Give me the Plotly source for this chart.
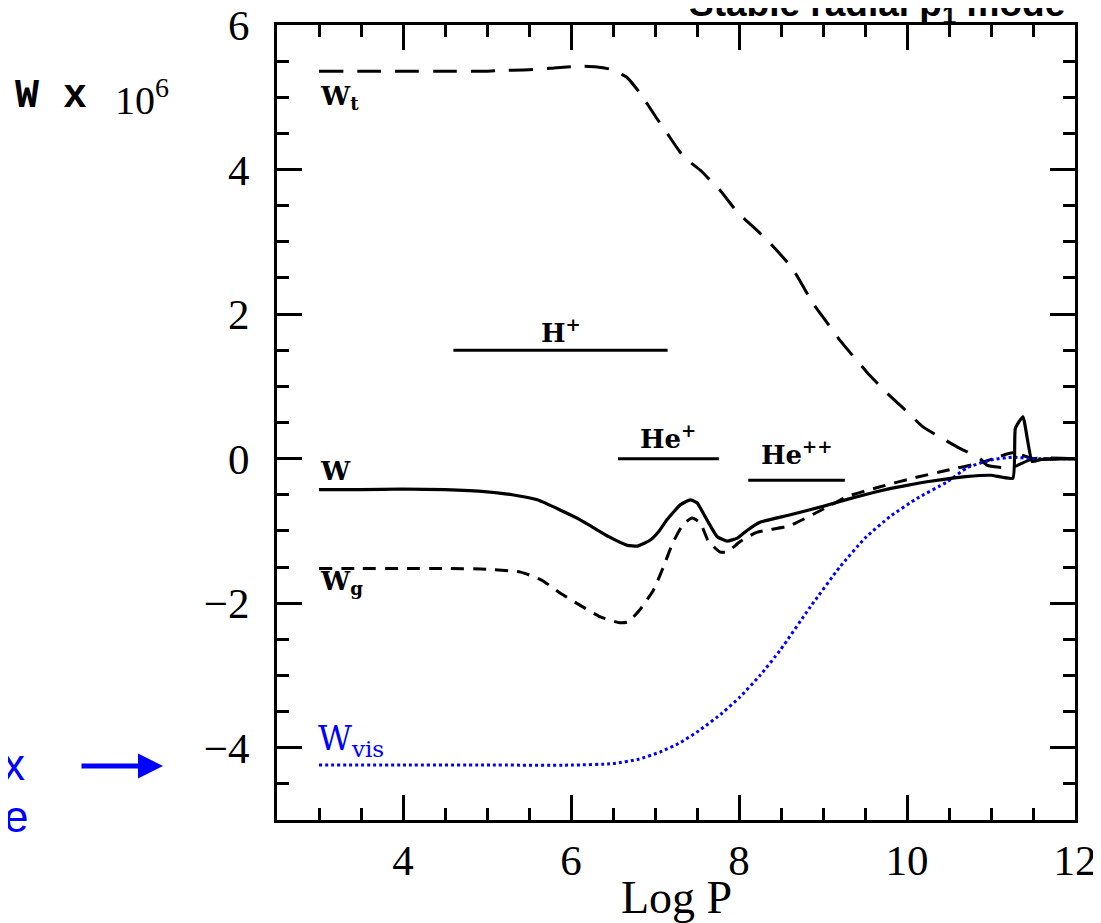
import plotly.graph_objects as go

# ---- data ----
logP_t = [3.0, 3.5, 4.0, 4.5, 5.0, 5.15, 5.5, 5.75, 5.95, 6.15, 6.31, 6.46, 6.57, 6.67, 6.82,
          7.02, 7.14, 7.30, 7.42, 7.55, 7.65, 7.77, 7.98, 8.10, 8.33, 8.63, 8.88, 9.05, 9.20,
          9.52, 9.76, 10.0, 10.19, 10.39, 10.6, 10.87, 10.95, 11.1, 11.26, 11.5, 12.0]
W_t = [5.36, 5.36, 5.36, 5.36, 5.36, 5.37, 5.38, 5.40, 5.42, 5.43, 5.42, 5.39, 5.34, 5.27, 5.06,
       4.71, 4.51, 4.24, 4.10, 3.98, 3.86, 3.72, 3.41, 3.28, 3.03, 2.64, 2.15, 1.88, 1.64,
       1.20, 0.91, 0.65, 0.44, 0.30, 0.16, 0.0, -0.09, -0.12, -0.12, 0.0, 0.0]

logP_w = [3.0, 3.5, 4.0, 4.5, 5.0, 5.3, 5.6, 5.87, 6.1, 6.26, 6.45, 6.67, 6.79, 6.94, 7.05,
          7.14, 7.30, 7.42, 7.5, 7.62, 7.74, 7.86, 7.98, 8.10, 8.25, 8.6, 9.0, 9.3, 9.7, 10.0,
          10.3, 10.7, 11.0, 11.26, 11.29, 11.38, 11.49, 11.6, 12.0]
W_total = [-0.43, -0.43, -0.42, -0.43, -0.46, -0.50, -0.57, -0.71, -0.84, -0.95, -1.08, -1.20,
           -1.21, -1.13, -1.0, -0.85, -0.64, -0.57, -0.61, -0.85, -1.08, -1.14, -1.10, -0.99,
           -0.88, -0.78, -0.66, -0.56, -0.44, -0.37, -0.31, -0.25, -0.23, -0.27, 0.42, 0.58,
           -0.04, -0.01, 0.0]

logP_g = [3.0, 3.5, 4.0, 4.5, 5.0, 5.4, 5.65, 5.87, 6.11, 6.35, 6.58, 6.68, 6.82, 6.98, 7.1,
          7.21, 7.33, 7.44, 7.54, 7.63, 7.77, 7.86, 8.01, 8.21, 8.6, 9.0, 9.3, 9.68, 10.07,
          10.48, 10.87, 11.26, 11.5, 12.0]
W_g = [-1.52, -1.52, -1.52, -1.52, -1.53, -1.57, -1.68, -1.86, -2.03, -2.19, -2.27, -2.26,
       -2.09, -1.82, -1.50, -1.17, -0.92, -0.82, -0.89, -1.13, -1.29, -1.29, -1.15, -1.02,
       -0.93, -0.70, -0.52, -0.39, -0.27, -0.16, -0.06, 0.08, 0.0, 0.0]

logP_vis = [3.0, 4.0, 5.0, 6.0, 6.5, 6.8, 7.06, 7.3, 7.54, 7.8, 8.01, 8.25, 8.49, 8.85, 9.2,
            9.5, 9.8, 10.12, 10.48, 10.71, 10.99, 11.26, 11.5, 12.0]
W_vis = [-4.24, -4.24, -4.24, -4.24, -4.22, -4.16, -4.06, -3.93, -3.75, -3.52, -3.3, -3.0,
         -2.65, -2.05, -1.5, -1.1, -0.8, -0.55, -0.32, -0.13, -0.02, 0.02, 0.0, 0.0]

zone_labels = ["H<sup>+</sup>", "He<sup>+</sup>", "He<sup>++</sup>"]
zone_start = [4.6, 6.56, 8.11]
zone_end = [7.15, 7.76, 9.26]
zone_level = [1.5, 0.0, -0.3]
zone_label_y = [1.77, 0.30, 0.08]

x_ticks = [4, 6, 8, 10, 12]
y_ticks = [-4, -2, 0, 2, 4, 6]

BLUE = "#0000ff"
SERIF = "Liberation Serif"
LBL = "DejaVu Serif"

fig = go.Figure()

fig.add_trace(go.Scatter(x=logP_t, y=W_t, mode="lines", hoverinfo="skip", showlegend=False,
                         line=dict(color="black", width=3, dash="24px,14px",
                                   shape="spline", smoothing=0.5)))
fig.add_trace(go.Scatter(x=logP_g, y=W_g, mode="lines", hoverinfo="skip", showlegend=False,
                         line=dict(color="black", width=3, dash="13px,9px",
                                   shape="spline", smoothing=0.5)))
fig.add_trace(go.Scatter(x=logP_vis, y=W_vis, mode="lines", hoverinfo="skip", showlegend=False,
                         line=dict(color=BLUE, width=3, dash="dot",
                                   shape="spline", smoothing=0.5)))
fig.add_trace(go.Scatter(x=logP_w, y=W_total, mode="lines", hoverinfo="skip", showlegend=False,
                         line=dict(color="black", width=3.2, shape="spline", smoothing=0.4)))

for lab, x0, x1, yv, ly in zip(zone_labels, zone_start, zone_end, zone_level, zone_label_y):
    fig.add_trace(go.Scatter(x=[x0, x1], y=[yv, yv], mode="lines", hoverinfo="skip",
                             showlegend=False, line=dict(color="black", width=3)))
    fig.add_annotation(x=(x0 + x1) / 2, y=ly, xref="x", yref="y", text="<b>" + lab + "</b>",
                       showarrow=False, font=dict(family=LBL, size=26, color="black"),
                       xanchor="center", yanchor="middle")

# curve labels
fig.add_annotation(x=2.99, y=5.0, xref="x", yref="y", text="<b>W<sub>t</sub></b>",
                   showarrow=False, xanchor="left", yanchor="middle",
                   font=dict(family=LBL, size=26, color="black"))
fig.add_annotation(x=2.99, y=-0.17, xref="x", yref="y", text="<b>W</b>",
                   showarrow=False, xanchor="left", yanchor="middle",
                   font=dict(family=LBL, size=26, color="black"))
fig.add_annotation(x=2.99, y=-1.72, xref="x", yref="y", text="<b>W<sub>g</sub></b>",
                   showarrow=False, xanchor="left", yanchor="middle",
                   font=dict(family=LBL, size=26, color="black"))
fig.add_annotation(x=2.97, y=-3.9, xref="x", yref="y", text="W<sub>vis</sub>",
                   showarrow=False, xanchor="left", yanchor="middle",
                   font=dict(family=LBL, size=33, color=BLUE))

# plot area in page pixels: x 277..1075, y 25..820
W_PX = 798.0
H_PX = 795.0
def px_x(px):
    return (px - 277) / W_PX
def px_y(py):
    return 1 - (py - 25) / H_PX

# y-axis label at upper left
fig.add_annotation(x=px_x(13), y=px_y(97), xref="paper", yref="paper", text="<b>W x</b>",
                   showarrow=False, xanchor="left", yanchor="middle",
                   font=dict(family="Liberation Mono", size=40, color="black"))
fig.add_annotation(x=px_x(113), y=px_y(98), xref="paper", yref="paper", text="10<sup>6</sup>",
                   showarrow=False, xanchor="left", yanchor="middle",
                   font=dict(family=SERIF, size=40, color="black"))

# x-axis title
fig.add_annotation(x=px_x(676), y=px_y(925), xref="paper", yref="paper", text="Log P",
                   showarrow=False, xanchor="center", yanchor="bottom",
                   font=dict(family=SERIF, size=46, color="black"))

# title (partially off-canvas, as in the reference)
fig.add_annotation(x=1.0, y=1.0, xref="paper", yref="paper",
                   text="<b>Stable radial p<sub>1</sub> mode</b>", showarrow=False,
                   xanchor="right", yanchor="bottom", yshift=-6, xshift=-8,
                   font=dict(family="Liberation Sans", size=37, color="black"))

# blue text cut off at the left edge and arrow
fig.add_annotation(x=px_x(27), y=px_y(764), xref="paper", yref="paper", text="Flux",
                   showarrow=False, xanchor="right", yanchor="middle",
                   font=dict(family="Liberation Sans", size=44, color=BLUE))
fig.add_annotation(x=px_x(30), y=px_y(816), xref="paper", yref="paper", text="Source",
                   showarrow=False, xanchor="right", yanchor="middle",
                   font=dict(family="Liberation Sans", size=44, color=BLUE))
fig.add_annotation(x=px_x(163), y=px_y(766), xref="paper", yref="paper", text="",
                   showarrow=True, ax=-83, ay=0, arrowcolor=BLUE, arrowwidth=5,
                   arrowhead=2, arrowsize=1.0)

axis_common = dict(ticks="inside", ticklen=25, tickwidth=2.5, tickcolor="black",
                   showline=True, linewidth=3, linecolor="black", mirror="allticks",
                   showgrid=False, zeroline=False, automargin=False,
                   ticklabeloverflow="allow",
                   tickfont=dict(family=SERIF, size=43, color="black"))

fig.update_xaxes(range=[2.5, 12], tickmode="array", tickvals=x_ticks,
                 ticktext=[str(v) for v in x_ticks], ticklabelstandoff=0,
                 minor=dict(tickmode="linear", tick0=0, dtick=0.5, ticks="inside", ticklen=12,
                            tickwidth=2.5, tickcolor="black", showgrid=False),
                 **axis_common)
fig.update_yaxes(range=[-5, 6], tickmode="array", tickvals=y_ticks,
                 ticktext=[("\u2212" + str(-v)) if v < 0 else str(v) for v in y_ticks],
                 ticklabelstandoff=16,
                 minor=dict(tickmode="linear", tick0=0, dtick=0.5, ticks="inside", ticklen=12,
                            tickwidth=2.5, tickcolor="black", showgrid=False),
                 **axis_common)

# the page body adds an 8px offset, so margins are reduced by 8 on the left/top
fig.update_layout(width=1101, height=923, margin=dict(l=269, r=34, t=17, b=111),
                  paper_bgcolor="white", plot_bgcolor="white", showlegend=False)

fig.write_html("out.html")
